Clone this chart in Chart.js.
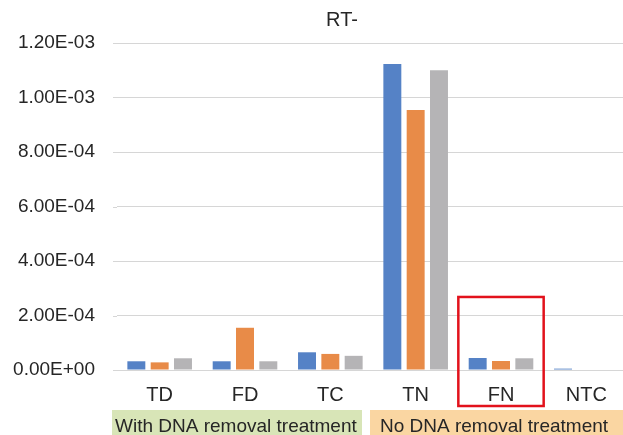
<!DOCTYPE html>
<html>
<head>
<meta charset="utf-8">
<script src="https://cdn.jsdelivr.net/npm/chart.js@4/dist/chart.umd.min.js"></script>
<style>
  html, body { margin: 0; padding: 0; background: #fff; overflow: hidden; }
  #wrap { width: 684px; height: 435px; }
</style>
</head>
<body>
<div id="wrap"><canvas id="c" width="684" height="435"></canvas></div>
<script>
// RT- chart data
const chartTitle = 'RT-';
const categories = ['TD', 'FD', 'TC', 'TN', 'FN', 'NTC'];
const rep1 = [3.2e-5, 3.2e-5, 6.5e-5, 1.123e-3, 4.4e-5, 5e-6];
const rep2 = [2.8e-5, 1.55e-4, 5.9e-5, 9.54e-4, 3.3e-5, 0];
const rep3 = [4.3e-5, 3.2e-5, 5.2e-5, 1.10e-3, 4.3e-5, 0];
const groupLabels = ['With DNA removal treatment', 'No DNA removal treatment'];
const highlightCategory = 'FN';
const highlightTop = 2.68e-4;

const FONT = '"Liberation Sans", Arial, sans-serif';
const GRID = '#d6d6d6';
const TEXT = '#262626';

function sciLabel(v) {
  const parts = Number(v).toExponential(2).split('e');
  const exp = parts[1];
  return parts[0] + 'E' + exp[0] + exp.slice(1).padStart(2, '0');
}

// title, group boxes under the axis + red highlight box
const annotations = {
  id: 'annotations',
  beforeDatasetsDraw(chart) {
    // gridlines in the original start a few px left of the first category
    const ctx = chart.ctx;
    const area = chart.chartArea;
    ctx.save();
    ctx.strokeStyle = GRID;
    ctx.lineWidth = 1;
    chart.scales.y.ticks.forEach(t => {
      const py = Math.round(chart.scales.y.getPixelForValue(t.value)) + 0.5;
      ctx.beginPath();
      ctx.moveTo(113, py);
      ctx.lineTo(area.left, py);
      ctx.stroke();
    });
    ctx.restore();
  },
  afterDraw(chart) {
    const ctx = chart.ctx;
    const area = chart.chartArea;
    const x = chart.scales.x;
    const y = chart.scales.y;

    ctx.save();
    // title is centred on the whole Excel chart box, not the plot
    ctx.fillStyle = TEXT;
    ctx.font = '20px ' + FONT;
    ctx.textAlign = 'center';
    ctx.textBaseline = 'middle';
    ctx.fillText(chartTitle, 342, 20);

    ctx.fillStyle = '#d8e5b7';
    ctx.fillRect(112, 410, 250, 30);
    ctx.fillStyle = '#fad6a2';
    ctx.fillRect(370, 410, 320, 30);
    ctx.fillStyle = TEXT;
    ctx.font = '19px ' + FONT;
    ctx.textAlign = 'left';
    ctx.fillText(groupLabels[0], 115, 427);
    ctx.fillText(groupLabels[1], 380, 427);

    const idx = categories.indexOf(highlightCategory);
    const half = (x.getPixelForValue(1) - x.getPixelForValue(0)) / 2;
    const cx = x.getPixelForValue(idx);
    const top = y.getPixelForValue(highlightTop);
    ctx.strokeStyle = '#e2121c';
    ctx.lineWidth = 2.5;
    ctx.strokeRect(cx - half, top, half * 2, area.bottom + 36 - top);
    ctx.restore();
  }
};

new Chart(document.getElementById('c'), {
  type: 'bar',
  data: {
    labels: categories,
    datasets: [
      { label: 'Rep 1', data: rep1, backgroundColor: '#5582c6' },
      { label: 'Rep 2', data: rep2, backgroundColor: '#e88b48' },
      { label: 'Rep 3', data: rep3, backgroundColor: '#b5b4b6' }
    ]
  },
  options: {
    responsive: false,
    animation: false,
    categoryPercentage: 0.82,
    barPercentage: 0.77,
    layout: { padding: { left: 0, right: 55, top: 43, bottom: 0 } },
    plugins: {
      legend: { display: false },
      tooltip: { enabled: false },
      title: { display: false }
    },
    scales: {
      x: {
        grid: { display: false },
        border: { display: false },
        ticks: { color: TEXT, font: { family: FONT, size: 20 }, padding: 5 },
        afterFit(s) { s.height = 65; }
      },
      y: {
        min: 0,
        max: 1.2e-3,
        grid: { color: GRID, lineWidth: 1, drawTicks: false },
        border: { display: false },
        ticks: {
          stepSize: 2e-4,
          color: TEXT,
          padding: 22,
          font: { family: FONT, size: 19 },
          callback: v => sciLabel(v)
        },
        afterFit(s) { s.width = 117; }
      }
    }
  },
  plugins: [annotations]
});
</script>
</body>
</html>
